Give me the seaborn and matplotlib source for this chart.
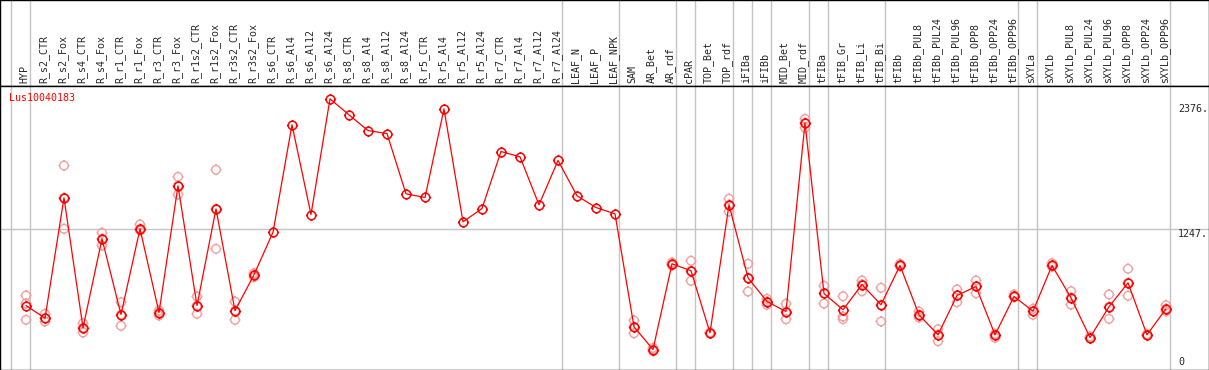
import numpy as np
import pandas as pd
import matplotlib
matplotlib.use("Agg")
import matplotlib.pyplot as plt
import seaborn as sns
from matplotlib.path import Path

gene = "Lus10040183"

samples = ["HYP", "R_s2_CTR", "R_s2_Fox", "R_s4_CTR", "R_s4_Fox", "R_r1_CTR", "R_r1_Fox",
           "R_r3_CTR", "R_r3_Fox", "R_r1s2_CTR", "R_r1s2_Fox", "R_r3s2_CTR", "R_r3s2_Fox",
           "R_s6_CTR", "R_s6_Al4", "R_s6_Al12", "R_s6_Al24", "R_s8_CTR", "R_s8_Al4",
           "R_s8_Al12", "R_s8_Al24", "R_r5_CTR", "R_r5_Al4", "R_r5_Al12", "R_r5_Al24",
           "R_r7_CTR", "R_r7_Al4", "R_r7_Al12", "R_r7_Al24", "LEAF_N", "LEAF_P", "LEAF_NPK",
           "SAM", "AR_Bet", "AR_rdf", "cPAR", "TOP_Bet", "TOP_rdf", "iFIBa", "iFIBb",
           "MID_Bet", "MID_rdf", "tFIBa", "tFIB_Gr", "tFIB_Li", "tFIB_Bi", "tFIBb",
           "tFIBb_PUL8", "tFIBb_PUL24", "tFIBb_PUL96", "tFIBb_OPP8", "tFIBb_OPP24",
           "tFIBb_OPP96", "sXYLa", "sXYLb", "sXYLb_PUL8", "sXYLb_PUL24", "sXYLb_PUL96",
           "sXYLb_OPP8", "sXYLb_OPP24", "sXYLb_OPP96"]

mean_expr = [554, 440, 1527, 353, 1157, 473, 1247, 491, 1635, 554, 1427, 507, 832,
             1216, 2186, 1376, 2421, 2276, 2134, 2107, 1563, 1530, 2330, 1310, 1430,
             1945, 1897, 1464, 1864, 1545, 1439, 1382,
             362, 157, 931, 868, 308, 1464, 804, 590, 500, 2204, 663, 516, 744, 561, 916,
             470, 290, 645, 726, 290, 636, 503, 916, 624, 265, 543, 759, 290, 525]

nan = np.nan
rep_a = [645, 479, 1818, 395, 1211, 584, 1286, 509, 1716, 636, 1780, 590, 810,
         nan, nan, nan, nan, nan, nan, nan, nan, nan, nan, nan, nan, nan, nan, nan, nan, nan, nan, nan,
         419, 172, 943, 958, 312, 1518, 931, 615, 570, 2240, 732, 638, 780, 714, 931,
         500, 340, 699, 780, 299, 654, 525, 936, 684, 274, 654, 886, 295, 557]
rep_b = [425, 410, 1247, 311, 1096, 371, 1232, 464, 1557, 479, 1066, 425, 846,
         nan, nan, nan, nan, nan, nan, nan, nan, nan, nan, nan, nan, nan, nan, nan, nan, nan, nan, nan,
         304, 142, 916, 777, 304, 1403, 681, 561, 431, 2159, 572, 431, 684, 410, 906,
         446, 232, 584, 665, 263, 629, 470, 905, 563, 258, 434, 642, 286, 503]
rep_c = [572, 440, 1527, 353, 1157, 473, 1247, 491, 1635, 554, 1427, 507, 832,
         nan, nan, nan, nan, nan, nan, nan, nan, nan, nan, nan, nan, nan, nan, nan, nan, nan, nan, nan,
         362, 157, 931, 868, 308, 1464, 804, 590, 500, 2204, 663, 455, 744, 561, 916,
         470, 290, 645, 726, 290, 636, 503, 916, 624, 265, 543, 759, 290, 525]

# index of last sample in each group (separator drawn just after it)
group_ends = [-1, 0, 28, 31, 34, 35, 37, 38, 39, 41, 42, 45, 52, 53, 60]
ytick_vals = [2376, 1247, 0]
ytick_text = ["2376.", "1247.", "0"]

sns.set_style("white")
plt.rcParams["font.family"] = ["DejaVu Sans Mono"]
fs = 7.2

x = np.arange(len(samples))
reps = pd.DataFrame({"x": np.tile(x, 3), "value": rep_a + rep_b + rep_c}).dropna()

# circle with small ticks, like the original marker
circle = Path.circle((0, 0), 1.0)
ring = Path.make_compound_path(
    circle,
    Path([(0, 1), (0, 1.3), (0, -1), (0, -1.3), (1, 0), (1.3, 0), (-1, 0), (-1.3, 0)],
         [Path.MOVETO, Path.LINETO] * 4))

W, H = 1209, 370
fig = plt.figure(figsize=(W / 100, H / 100), dpi=100)
xlim = (-26 / 19, (W - 26) / 19)
head_px = 85.5
ax_head = fig.add_axes([0, (H - head_px) / H, 1, head_px / H])
ax = fig.add_axes([0, 0.5 / H, 1, (H - head_px - 0.5) / H])

for a in (ax_head, ax):
    a.set_xlim(*xlim)
    a.set_xticks([])
    a.set_yticks([])
    for s in a.spines.values():
        s.set_color("black")
        s.set_linewidth(1.0)
    for g in group_ends:
        a.axvline(g + 0.23, color="#c4c4c4", lw=1.0, zorder=0)

ax_head.set_ylim(0, 1)
for i, name in enumerate(samples):
    ax_head.text(i - 0.08, 0.025, name, rotation=90, ha="center", va="bottom", fontsize=fs)

ax.set_ylim(-23.5, 2541)
ax.axhline(1247, color="#c4c4c4", lw=1.0, zorder=0)

sns.scatterplot(data=reps, x="x", y="value", marker=ring, s=64, facecolor="none",
                edgecolor="#f0a0a0", linewidth=1.0, ax=ax, zorder=2, legend=False)
sns.lineplot(x=x, y=mean_expr, color="red", lw=0.9, marker=ring, markersize=8,
             mfc="none", mec="red", mew=1.1, ax=ax, zorder=3)

ax.text(-0.9, 2470, gene, color="red", ha="left", va="top", fontsize=fs)
for v, t in zip(ytick_vals, ytick_text):
    ax.text(60.63, v, t, ha="left", va="bottom" if v == 0 else "top", fontsize=fs)

ax.set_xlabel("")
ax.set_ylabel("")
ax.set_xlim(*xlim)
fig.savefig("out.png", dpi=100)
